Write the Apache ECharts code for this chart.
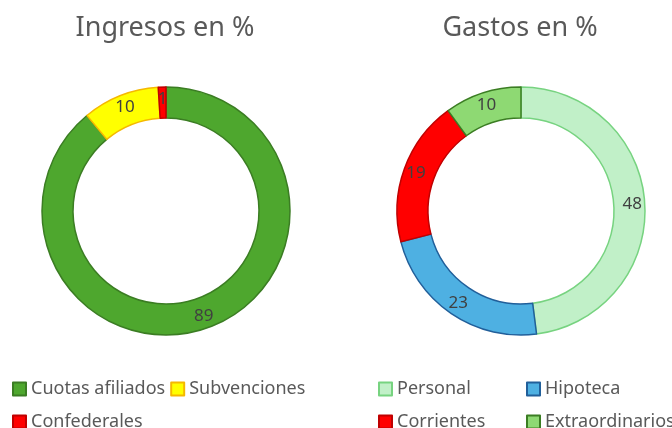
<!DOCTYPE html>
<html>
<head>
<meta charset="utf-8">
<script src="https://cdn.jsdelivr.net/npm/echarts@6/dist/echarts.min.js"></script>
<style>
  html, body { margin: 0; padding: 0; background: #fff; }
  #chart { width: 672px; height: 428px; }
</style>
</head>
<body>
<div id="chart"></div>
<script>
// datos
const ingresosNames = ['Cuotas afiliados', 'Subvenciones', 'Confederales'];
const ingresosValues = [89, 10, 1];
const ingresosColors = ['#4ea72e', '#ffff00', '#ff0000'];
const ingresosBorders = ['#3b7d23', '#f5b800', '#c00000'];

const gastosNames = ['Personal', 'Hipoteca', 'Corrientes', 'Extraordinarios'];
const gastosValues = [48, 23, 19, 10];
const gastosColors = ['#c1f0c8', '#4eb0e2', '#ff0000', '#8ed973'];
const gastosBorders = ['#77d380', '#215f9a', '#c00000', '#3b7d23'];

const font = '"Noto Sans", sans-serif';

function buildData(names, values, colors, borders) {
  return names.map((n, i) => ({
    name: n,
    value: values[i],
    itemStyle: { color: colors[i], borderColor: borders[i], borderWidth: 1.5 }
  }));
}

const legendCommon = {
  icon: 'rect',
  itemWidth: 13,
  itemHeight: 13,
  itemGap: 5,
  textStyle: { color: '#595959', fontSize: 18, fontFamily: font }
};

const pieCommon = {
  type: 'pie',
  radius: [93, 124],
  startAngle: 90,
  clockwise: true,
  avoidLabelOverlap: false,
  silent: true,
  label: {
    show: true,
    position: 'inside',
    formatter: '{c}',
    color: '#404040',
    fontSize: 17,
    fontFamily: font
  },
  labelLine: { show: false }
};

const myChart = echarts.init(document.getElementById('chart'));

const option = {
  animation: false,
  title: [
    { text: 'Ingresos en %', left: 160, top: 10, textAlign: 'center',
      textStyle: { color: '#595959', fontSize: 27, fontWeight: 'normal', fontFamily: font } },
    { text: 'Gastos en %', left: 515, top: 10, textAlign: 'center',
      textStyle: { color: '#595959', fontSize: 27, fontWeight: 'normal', fontFamily: font } }
  ],
  legend: [
    Object.assign({ left: 7, top: 375, data: ['Cuotas afiliados', 'Subvenciones'] }, legendCommon),
    Object.assign({ left: 7, top: 408, data: ['Confederales'] }, legendCommon),
    Object.assign({ left: 373, top: 375, data: ['Personal'] }, legendCommon),
    Object.assign({ left: 521, top: 375, data: ['Hipoteca'] }, legendCommon),
    Object.assign({ left: 373, top: 408, data: ['Corrientes'] }, legendCommon),
    Object.assign({ left: 521, top: 408, data: ['Extraordinarios'] }, legendCommon)
  ],
  series: [
    Object.assign({ name: 'Ingresos', center: [166, 211],
      data: buildData(ingresosNames, ingresosValues, ingresosColors, ingresosBorders) }, pieCommon),
    Object.assign({ name: 'Gastos', center: [521, 211],
      data: buildData(gastosNames, gastosValues, gastosColors, gastosBorders) }, pieCommon)
  ]
};

myChart.setOption(option);
</script>
</body>
</html>
